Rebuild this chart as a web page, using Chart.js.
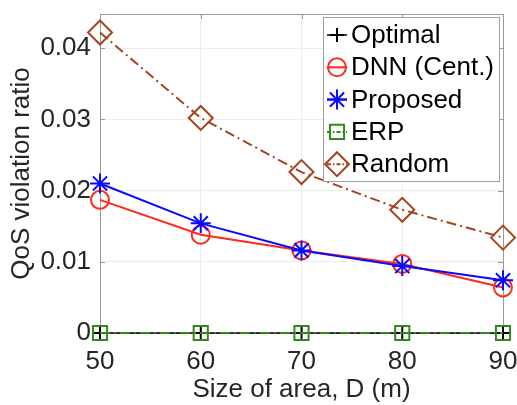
<!DOCTYPE html>
<html>
<head>
<meta charset="utf-8">
<script src="https://cdn.jsdelivr.net/npm/chart.js@4.4.1/dist/chart.umd.min.js"></script>
<style>
  html, body { margin: 0; padding: 0; background: #fff; }
  #wrap { width: 517px; height: 405px; }
</style>
</head>
<body>
<div id="wrap"><canvas id="c" width="517" height="405"></canvas></div>
<script>
// area sizes (m)
var sizes = [50, 60, 70, 80, 90];
var optimal = [0, 0, 0, 0, 0];
var dnnCent = [0.0187, 0.0138, 0.0116, 0.0097, 0.0064];
var proposed = [0.0210, 0.0154, 0.0116, 0.0094, 0.0074];
var erp = [0, 0, 0, 0, 0];
var random = [0.0422, 0.0302, 0.0226, 0.0173, 0.0134];
var yTicks = [0, 0.01, 0.02, 0.03, 0.04];
var xTicks = [50, 60, 70, 80, 90];

var FONT = "'Liberation Sans', Arial, Helvetica, sans-serif";
var dashDot = [10, 4, 2, 4];

function pts(arr){
  return arr.map(function(v, i){ return {x: sizes[i], y: v}; });
}

var series = [
  {label: 'Optimal', data: pts(optimal), borderColor: '#000000', borderWidth: 1.5,
   pointStyle: 'cross', pointRadius: 7, borderDash: [], order: 5},
  {label: 'DNN (Cent.)', data: pts(dnnCent), borderColor: '#ff2a1a', borderWidth: 2,
   pointStyle: 'circle', pointRadius: 9, borderDash: [], order: 4},
  {label: 'Proposed', data: pts(proposed), borderColor: '#0a0aff', borderWidth: 2,
   pointStyle: 'star', pointRadius: 10, borderDash: [], order: 3},
  {label: 'ERP', data: pts(erp), borderColor: '#2f8a1a', borderWidth: 2,
   pointStyle: 'rect', pointRadius: 10, borderDash: dashDot, order: 2},
  {label: 'Random', data: pts(random), borderColor: '#a4441c', borderWidth: 2,
   pointStyle: 'rectRot', pointRadius: 12, borderDash: dashDot, order: 1}
];

var datasets = series.map(function(s){
  return {
    label: s.label,
    data: s.data,
    borderColor: s.borderColor,
    backgroundColor: 'rgba(0,0,0,0)',
    borderWidth: s.borderWidth,
    borderDash: s.borderDash,
    pointStyle: s.pointStyle,
    pointRadius: s.pointRadius,
    pointBorderColor: s.borderColor,
    pointBackgroundColor: 'rgba(0,0,0,0)',
    pointBorderWidth: 2,
    tension: 0,
    fill: false,
    clip: false,
    order: s.order
  };
});

function drawMark(ctx, style, x, y, r){
  var d;
  if (style === 'cross') {
    ctx.moveTo(x - r, y); ctx.lineTo(x + r, y);
    ctx.moveTo(x, y - r); ctx.lineTo(x, y + r);
  } else if (style === 'circle') {
    ctx.moveTo(x + r, y); ctx.arc(x, y, r, 0, Math.PI * 2);
  } else if (style === 'star') {
    d = r * Math.SQRT1_2;
    ctx.moveTo(x - r, y); ctx.lineTo(x + r, y);
    ctx.moveTo(x, y - r); ctx.lineTo(x, y + r);
    ctx.moveTo(x - d, y - d); ctx.lineTo(x + d, y + d);
    ctx.moveTo(x - d, y + d); ctx.lineTo(x + d, y - d);
  } else if (style === 'rect') {
    d = r * Math.SQRT1_2;
    ctx.rect(x - d, y - d, 2 * d, 2 * d);
  } else if (style === 'rectRot') {
    ctx.moveTo(x, y - r); ctx.lineTo(x + r, y); ctx.lineTo(x, y + r);
    ctx.lineTo(x - r, y); ctx.closePath();
  }
}

// axes box with inward ticks (drawn under the data)
var axesBox = {
  id: 'axesBox',
  beforeDatasetsDraw: function(chart){
    var ctx = chart.ctx, a = chart.chartArea;
    var xs = chart.scales.x, ys = chart.scales.y;
    ctx.save();
    ctx.strokeStyle = '#9a9a9a';
    ctx.lineWidth = 1;
    ctx.strokeRect(a.left + 0.5, a.top + 0.5, a.right - a.left, a.bottom - a.top);
    ctx.beginPath();
    xTicks.forEach(function(v){
      var px = Math.round(xs.getPixelForValue(v)) + 0.5;
      ctx.moveTo(px, a.bottom); ctx.lineTo(px, a.bottom - 5);
      ctx.moveTo(px, a.top); ctx.lineTo(px, a.top + 5);
    });
    yTicks.forEach(function(v){
      var py = Math.round(ys.getPixelForValue(v)) + 0.5;
      ctx.moveTo(a.left, py); ctx.lineTo(a.left + 5, py);
      ctx.moveTo(a.right, py); ctx.lineTo(a.right - 5, py);
    });
    ctx.stroke();
    ctx.restore();
  }
};

// legend inside the plot, top right
var insideLegend = {
  id: 'insideLegend',
  afterDraw: function(chart){
    var ctx = chart.ctx;
    ctx.save();
    var lx = 323, ly = 17, lw = 176, lh = 164;
    ctx.fillStyle = '#ffffff';
    ctx.fillRect(lx, ly, lw, lh);
    ctx.strokeStyle = '#a0a0a0';
    ctx.lineWidth = 1;
    ctx.strokeRect(lx + 0.5, ly + 0.5, lw, lh);

    ctx.font = '26px ' + FONT;
    ctx.textBaseline = 'middle';
    ctx.textAlign = 'left';
    series.forEach(function(s, i){
      var cy = 35 + i * 32.3, cx = 337;
      ctx.strokeStyle = s.borderColor;
      ctx.lineWidth = s.borderWidth;
      ctx.setLineDash(s.borderDash.length ? [4, 2, 1.5, 2] : []);
      ctx.beginPath();
      ctx.moveTo(cx - 10, cy);
      ctx.lineTo(cx + 10, cy);
      ctx.stroke();
      ctx.setLineDash([]);
      ctx.lineWidth = 2;
      ctx.beginPath();
      drawMark(ctx, s.pointStyle, cx, cy, s.pointRadius);
      ctx.stroke();
      ctx.fillStyle = '#000000';
      ctx.fillText(s.label, 351, cy + 1);
    });
    ctx.restore();
  }
};

new Chart(document.getElementById('c').getContext('2d'), {
  type: 'line',
  data: { datasets: datasets },
  options: {
    responsive: false,
    animation: false,
    layout: { padding: { top: 10, right: 14, left: 0, bottom: 0 } },
    plugins: {
      legend: { display: false },
      tooltip: { enabled: false }
    },
    scales: {
      x: {
        type: 'linear',
        min: 50, max: 90,
        afterBuildTicks: function(scale){
          scale.ticks = xTicks.map(function(v){ return {value: v}; });
        },
        afterFit: function(scale){
          scale.height = 72;
          scale.paddingLeft = 14;
          scale.paddingRight = 14;
        },
        grid: { color: '#ececec', drawTicks: false },
        border: { display: false },
        ticks: { color: '#262626', padding: 13, font: { family: FONT, size: 26 },
                 maxRotation: 0 },
        title: { display: true, text: 'Size of area, D (m)', color: '#262626',
                 font: { family: FONT, size: 26 }, padding: { top: 0, bottom: 0 } }
      },
      y: {
        min: 0, max: 0.0448,
        afterBuildTicks: function(scale){
          scale.ticks = yTicks.map(function(v){ return {value: v}; });
        },
        afterFit: function(scale){
          scale.width = 100;
          scale.paddingTop = 0;
          scale.paddingBottom = 0;
        },
        grid: { color: '#ececec', drawTicks: false },
        border: { display: false },
        ticks: { color: '#262626', padding: 9, font: { family: FONT, size: 26 },
                 callback: function(v){ return v === 0 ? '0' : v.toFixed(2); } },
        title: { display: true, text: 'QoS violation ratio', color: '#262626',
                 font: { family: FONT, size: 26 }, padding: { top: 6, bottom: 0 } }
      }
    }
  },
  plugins: [axesBox, insideLegend]
});
</script>
</body>
</html>
